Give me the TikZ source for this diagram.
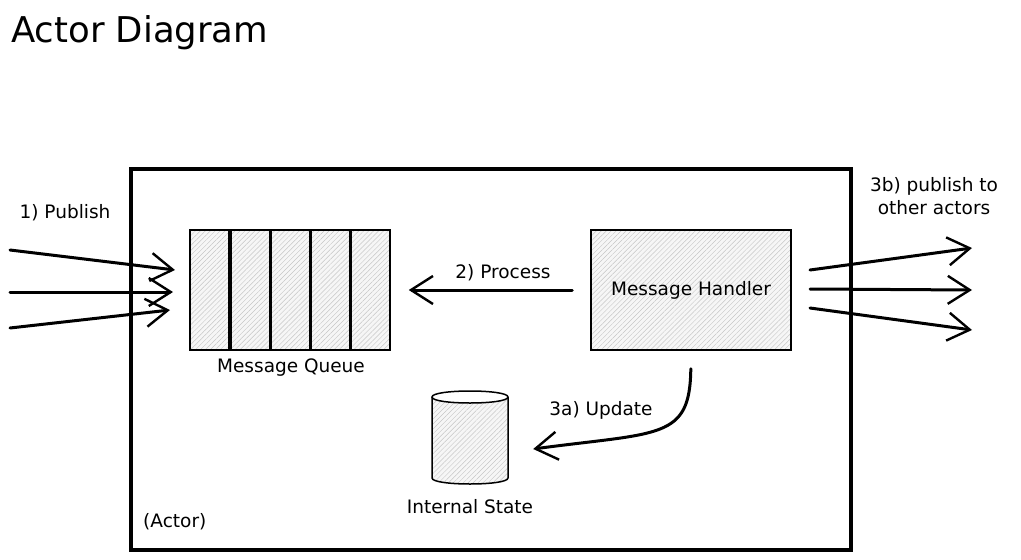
\documentclass[tikz,border=0pt]{standalone}
\usepackage{fontspec}
\setmainfont{DejaVu Sans}
\usetikzlibrary{arrows.meta,patterns.meta,calc}
\begin{document}
\begin{tikzpicture}[x=1pt,y=-1pt,
  hatch/.style={preaction={fill=gray!7}, preaction={pattern={Lines[angle=45,distance=3.5pt,line width=0.45pt]}, pattern color=gray!45}},
  qbox/.style={draw, line width=1.5pt, hatch, minimum width=39pt, minimum height=120pt, inner sep=0pt},
  arr/.style={line width=3pt, line cap=round, -{Straight Barb[length=22pt,width=28pt,line width=2.4pt]}},
  lbl/.style={font=\fontsize{18.5}{23}\selectfont, inner sep=0pt},
]
\useasboundingbox (0,0) rectangle (1021,560);
\node[anchor=west, font=\fontsize{35.5}{40}\selectfont, inner sep=0pt] (title) at (11,33) {Actor Diagram};

% actor box
\node[draw, line width=3.2pt, minimum width=720pt, minimum height=381pt, inner sep=0pt] (actor) at (491,359.5) {};
\node[lbl, anchor=west] (actorlbl) at (143,522) {(Actor)};

% message queue
\node[qbox] (q1) at (209.5,290) {};
\node[qbox] (q2) at (250.5,290) {};
\node[qbox] (q3) at (290.5,290) {};
\node[qbox] (q4) at (330.5,290) {};
\node[qbox] (q5) at (370.5,290) {};
\node[lbl] (qlbl) at (291,368) {Message Queue};

% handler
\node[draw, line width=1.5pt, hatch, minimum width=200pt, minimum height=120pt, inner sep=0pt, font=\fontsize{18.5}{23}\selectfont] (handler) at (691,290) {Message Handler};

% process arrow
\draw[arr, shorten <=18pt, shorten >=18pt] (handler.west) -- (q5.east);
\node[lbl] (proclbl) at (503,273) {2) Process};

% incoming
\coordinate (i1) at (10,250);
\coordinate (i2) at (10,292);
\coordinate (i3) at (10,328);
\coordinate (t1) at (175,270);
\coordinate (t2) at (173,292);
\coordinate (t3) at (170,310);
\draw[arr] (i1) -- (t1);
\draw[arr] (i2) -- (t2);
\draw[arr] (i3) -- (t3);
\node[lbl] (publbl) at (65,213) {1) Publish};

% outgoing
\coordinate (o1) at (810,270);
\coordinate (o2) at (810,289);
\coordinate (o3) at (810,308);
\coordinate (u1) at (972,248);
\coordinate (u2) at (972,290);
\coordinate (u3) at (972,330);
\draw[arr] (o1) -- (u1);
\draw[arr] (o2) -- (u2);
\draw[arr] (o3) -- (u3);
\node[lbl, align=center] (outlbl) at (934,196) {3b) publish to\\other actors};

% internal state cylinder
\node[minimum width=76pt, minimum height=96pt, inner sep=0pt] (state) at (470,438) {};
\path[hatch] (432,397) -- (432,478) .. controls (432,486) and (508,486) .. (508,478) -- (508,397) .. controls (508,389) and (432,389) .. (432,397) -- cycle;
\draw[line width=1.5pt] (432,397) -- (432,478) .. controls (432,486) and (508,486) .. (508,478) -- (508,397);
\draw[line width=1.5pt, fill=white] (432,397) .. controls (432,389) and (508,389) .. (508,397) .. controls (508,405) and (432,405) .. (432,397) -- cycle;
\node[lbl] (statelbl) at (470,507) {Internal State};

% update arrow
\coordinate (uend) at ($(state.east)+(25,11)$);
\draw[arr, shorten <=18pt] (handler.south) .. controls (690,440) and (660,432) .. (uend);
\node[lbl] (updlbl) at (601,410) {3a) Update};
\end{tikzpicture}
\end{document}
